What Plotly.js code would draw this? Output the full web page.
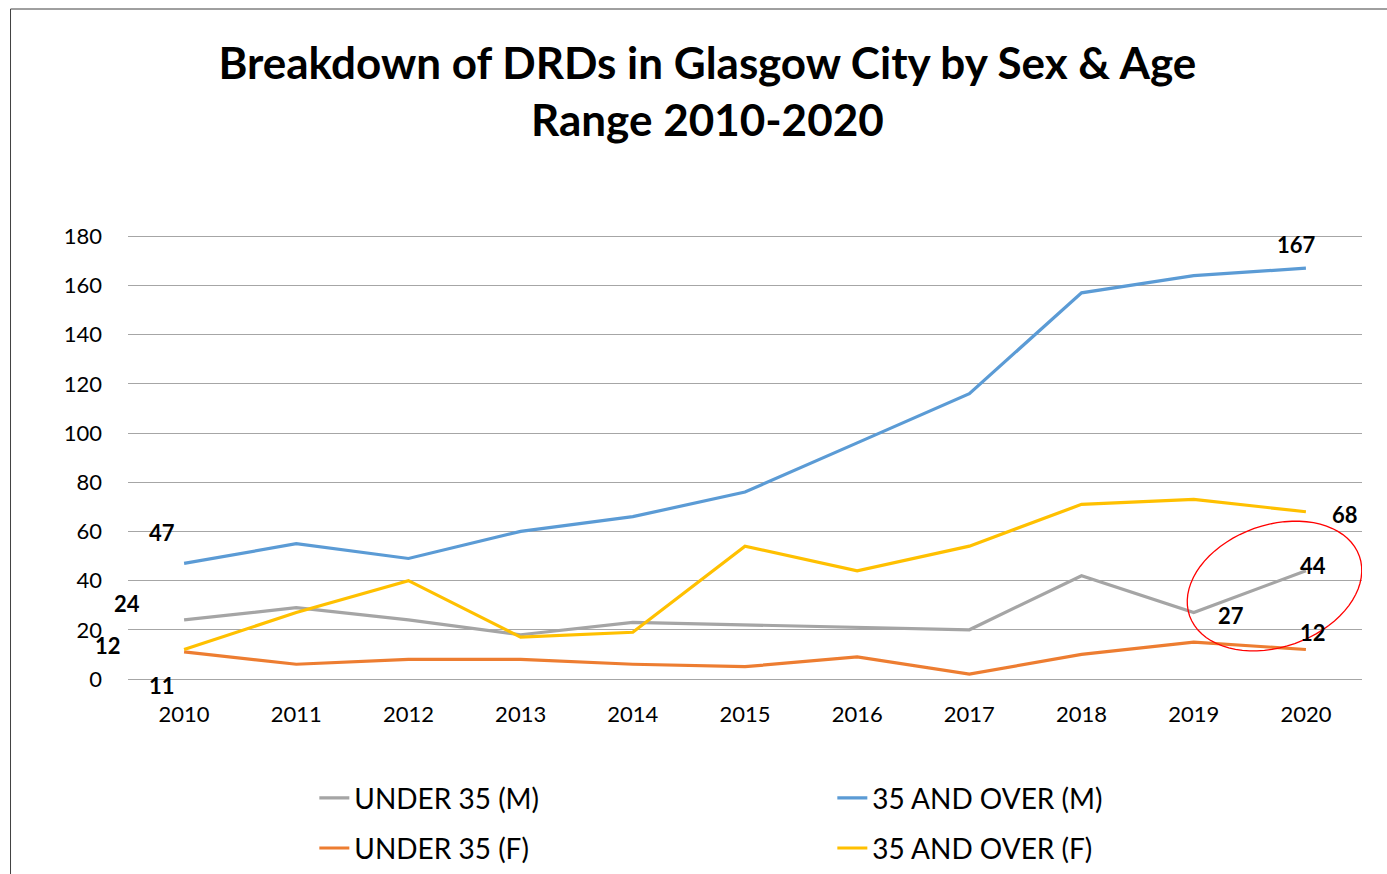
<!DOCTYPE html>
<html>
<head>
<meta charset="utf-8">
<script src="https://cdn.plot.ly/plotly-3.0.1.min.js"></script>
<style>html,body{margin:0;padding:0;background:#fff;}#chart{width:1387px;height:874px;}</style>
</head>
<body>
<div id="chart"></div>
<script>
const years = [2010, 2011, 2012, 2013, 2014, 2015, 2016, 2017, 2018, 2019, 2020];
const under35M = [24, 29, 24, 18, 23, 22, 21, 20, 42, 27, 44];
const over35M = [47, 55, 49, 60, 66, 76, 96, 116, 157, 164, 167];
const under35F = [11, 6, 8, 8, 6, 5, 9, 2, 10, 15, 12];
const over35F = [12, 27, 40, 17, 19, 54, 44, 54, 71, 73, 68];
const seriesNames = ['UNDER 35 (M)', '35 AND OVER (M)', 'UNDER 35 (F)', '35 AND OVER (F)'];
const yTicks = [0, 20, 40, 60, 80, 100, 120, 140, 160, 180];

const FONT = 'Lato, "Noto Sans", sans-serif';
const colors = ['#A5A5A5', '#5B9BD5', '#ED7D31', '#FFC000'];
const allSeries = [under35M, over35M, under35F, over35F];
const legendOf = ['legend', 'legend', 'legend2', 'legend2'];

const traces = allSeries.map((s, i) => ({
  type: 'scatter', mode: 'lines', x: years, y: s, name: seriesNames[i],
  legend: legendOf[i],
  line: {color: colors[i], width: 3.2}, hoverinfo: 'x+y+name'
}));

// labelled points: [series index, year index, xshift, yshift]
const labelSpec = [
  [1, 0, -22, 31], [0, 0, -57, 16], [3, 0, -76, 4], [2, 0, -22, -34],
  [1, 10, -9, 24], [3, 10, 39, -3], [0, 10, 7, 5], [0, 9, 37, -3], [2, 10, 7, 17]
];
const annotations = labelSpec.map(([si, yi, dx, dy]) => ({
  x: years[yi], y: allSeries[si][yi], xref: 'x', yref: 'y',
  text: String(allSeries[si][yi]), showarrow: false, xshift: dx, yshift: dy,
  font: {family: FONT, size: 22, color: '#000', weight: 'bold'}
}));

// red ellipse (pixel-sized path anchored at data point)
const a = 90, b = 61, alpha = 19.4 * Math.PI / 180;
let path = '';
for (let k = 0; k <= 72; k++) {
  const t = k / 72 * 2 * Math.PI;
  const ex = a * Math.cos(t), ey = b * Math.sin(t);
  const px = ex * Math.cos(alpha) - ey * Math.sin(alpha);
  const py = ex * Math.sin(alpha) + ey * Math.cos(alpha);
  path += (k === 0 ? 'M' : 'L') + px.toFixed(2) + ',' + py.toFixed(2);
}
path += 'Z';

const legendBase = {
  orientation: 'h', xanchor: 'left', yanchor: 'top',
  entrywidth: 473, entrywidthmode: 'pixels', tracegroupgap: 0,
  bgcolor: 'rgba(0,0,0,0)',
  font: {family: FONT, size: 28, color: '#000'}
};

const layout = {
  width: 1387, height: 874,
  margin: {l: 128, r: 25, t: 235, b: 195, autoexpand: false},
  paper_bgcolor: '#fff', plot_bgcolor: '#fff',
  font: {family: FONT, color: '#000'},
  title: {
    text: 'Breakdown of DRDs in Glasgow City by Sex & Age<br>Range 2010-2020',
    x: 0.51, xanchor: 'center', y: 0.91, yanchor: 'top', yref: 'container',
    font: {family: FONT, size: 44, color: '#000', weight: 'bold'}
  },
  xaxis: {
    range: [2009.5, 2020.5], tickvals: years, ticktext: years.map(String),
    showgrid: false, zeroline: false, showline: true, linecolor: '#a6a6a6', linewidth: 1,
    ticks: '', tickfont: {family: FONT, size: 22, color: '#000'}, ticklabelstandoff: 16
  },
  yaxis: {
    range: [0, 180.5], tickvals: yTicks, showgrid: true, gridcolor: '#a6a6a6', gridwidth: 1,
    zeroline: false, showline: false, ticks: '',
    tickfont: {family: FONT, size: 22, color: '#000'}, ticklabelstandoff: 25
  },
  showlegend: true,
  legend: Object.assign({}, legendBase, {x: 0.151, y: -0.212}),
  legend2: Object.assign({}, legendBase, {x: 0.151, y: -0.325}),
  annotations: annotations,
  shapes: [
    {type: 'path', xref: 'x', yref: 'y', xsizemode: 'pixel', ysizemode: 'pixel',
     xanchor: 2019.72, yanchor: 37.8, path: path, line: {color: '#FF0000', width: 1.3}},
    {type: 'rect', xref: 'paper', yref: 'paper', x0: -0.0952, x1: 1.2, y0: -0.8, y1: 1.509,
     line: {color: '#404040', width: 1}, layer: 'below'}
  ]
};

Plotly.newPlot('chart', traces, layout, {displayModeBar: false, staticPlot: true});
</script>
</body>
</html>
